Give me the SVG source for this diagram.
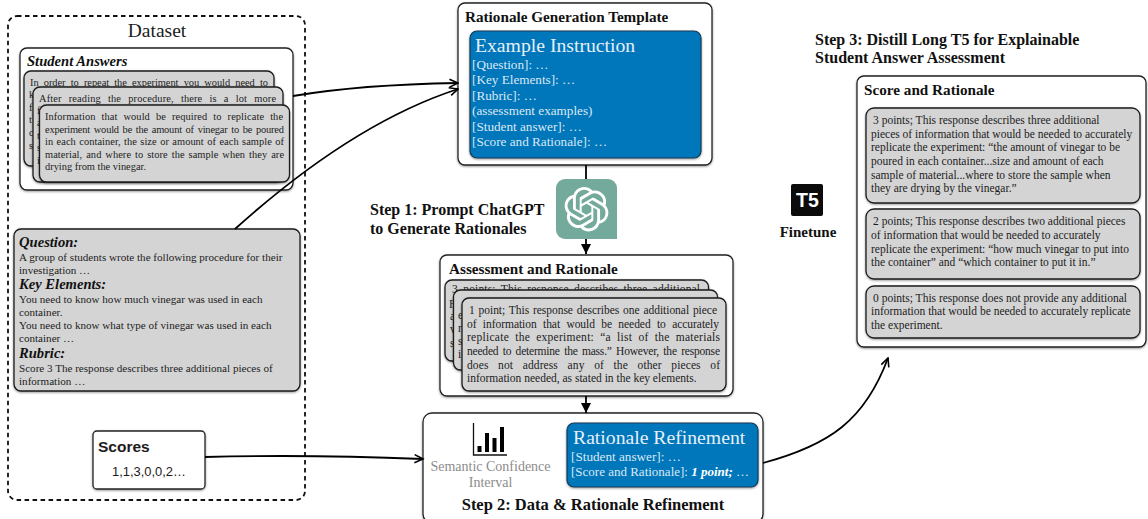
<svg xmlns="http://www.w3.org/2000/svg" width="1148" height="519" viewBox="0 0 1148 519">
<style>
text{font-family:"Liberation Serif","Times New Roman",serif;fill:#1c1c1c}
.box{fill:#fff;stroke:#222;stroke-width:1.3;filter:url(#sh)}
.card{fill:#d4d4d4;stroke:#1a1a1a;stroke-width:1.3;filter:url(#sh)}
.blue{fill:#0076bb;stroke:#143a55;stroke-width:1.2;filter:url(#sh)}
.tt{font-size:10.4px}
.q{font-size:11.1px}
.r{font-size:11.5px}
.h{font-size:15.2px;font-weight:bold;fill:#111}
.s{font-size:16px;font-weight:bold;fill:#111}
.bi{font-size:14.6px;font-weight:bold;font-style:italic;fill:#111}
.w{fill:#dce9f4;font-size:13.2px}
.wb{fill:#e6f0f8;font-size:19.7px}
.gray{fill:#8c8c8c;font-size:14px}
.sans{font-family:"Liberation Sans",Arial,sans-serif}
.c{fill:none;stroke:#000;stroke-width:1.8}
</style>
<defs>
<filter id="sh" x="-5%" y="-5%" width="110%" height="112%"><feDropShadow dx="0" dy="1" stdDeviation="1" flood-color="#000" flood-opacity="0.4"/></filter>
<marker id="open" markerWidth="11" markerHeight="11" refX="9.5" refY="5" orient="auto" markerUnits="userSpaceOnUse"><path d="M1 1L9.5 5L1 9" fill="none" stroke="#000" stroke-width="1.6"/></marker>
<marker id="solid" markerWidth="11" markerHeight="10" refX="10" refY="5" orient="auto" markerUnits="userSpaceOnUse"><path d="M0 0L10 5L0 10z" fill="#000"/></marker>
</defs>

<g id="dataset">
<rect x="8" y="16" width="297" height="484" rx="9" fill="#fff" stroke="#111" stroke-width="1.8" stroke-dasharray="4.5 3.5"/>
<text x="157" y="37" text-anchor="middle" font-size="19.5">Dataset</text>
</g>

<g id="student-answers">
<rect class="box" x="20" y="48" width="273" height="142" rx="7"/>
<text class="bi" x="27" y="66">Student Answers</text>
<rect class="card" x="24" y="71" width="250" height="95" rx="7"/>
<text class="tt" x="30" y="86" word-spacing="2.6" textLength="238">In order to repeat the experiment you would need to</text>
<text class="tt" x="29" y="98">k</text><text class="tt" x="29" y="111">f</text><text class="tt" x="29" y="123">t</text><text class="tt" x="29" y="136">c</text><text class="tt" x="29" y="149">s</text>
<rect class="card" x="33" y="87" width="250" height="95" rx="7"/>
<text class="tt" x="39" y="102" word-spacing="4.4" textLength="237">After reading the procedure, there is a lot more</text>
<text class="tt" x="37" y="114">f</text><text class="tt" x="37" y="126">a</text><text class="tt" x="37" y="139">t</text><text class="tt" x="37" y="151">s</text><text class="tt" x="37" y="164">i</text>
<rect class="card" x="39.5" y="105" width="250" height="77" rx="7"/>
<text class="tt" x="45" y="120" word-spacing="3.4" textLength="238">Information that would be required to replicate the</text>
<text class="tt" x="45" y="133" word-spacing="1.3" textLength="239">experiment would be the amount of vinegar to be poured</text>
<text class="tt" x="45" y="145" word-spacing="0.8" textLength="239">in each container, the size or amount of each sample of</text>
<text class="tt" x="45" y="158" word-spacing="1.3" textLength="239">material, and where to store the sample when they are</text>
<text class="tt" x="45" y="170">drying from the vinegar.</text>
</g>

<g id="question-card">
<rect class="card" x="14" y="229" width="286" height="162" rx="7"/>
<text class="bi" x="19" y="247">Question:</text>
<text class="q" x="19" y="261">A group of students wrote the following procedure for their</text>
<text class="q" x="19" y="274">investigation …</text>
<text class="bi" x="19" y="289">Key Elements:</text>
<text class="q" x="19" y="303">You need to know how much vinegar was used in each</text>
<text class="q" x="19" y="316">container.</text>
<text class="q" x="19" y="329">You need to know what type of vinegar was used in each</text>
<text class="q" x="19" y="342">container …</text>
<text class="bi" x="19" y="358">Rubric:</text>
<text class="q" x="19" y="372">Score 3 The response describes three additional pieces of</text>
<text class="q" x="19" y="385">information …</text>
</g>

<g id="scores">
<rect class="box" x="93" y="431" width="112" height="58" rx="4"/>
<text class="sans" x="98" y="452" font-size="15.5" font-weight="bold">Scores</text>
<text class="sans" x="112" y="476" font-size="12.9">1,1,3,0,0,2…</text>
</g>

<g id="template">
<rect class="box" x="458" y="3" width="254" height="162" rx="7"/>
<text class="h" x="465" y="22">Rationale Generation Template</text>
<rect class="blue" x="470" y="31" width="231" height="127" rx="7"/>
<text class="wb" x="475" y="52">Example Instruction</text>
<text class="w" x="472" y="69">[Question]: …</text>
<text class="w" x="472" y="84">[Key Elements]: …</text>
<text class="w" x="472" y="100">[Rubric]: …</text>
<text class="w" x="472" y="115">(assessment examples)</text>
<text class="w" x="472" y="131">[Student answer]: …</text>
<text class="w" x="472" y="146">[Score and Rationale]: …</text>
</g>

<g id="chatgpt">
<rect x="556" y="179" width="61" height="60" rx="9" fill="#74aa9c"/>
<path d="M607 239h10v-10z" fill="#74aa9c"/>
<path transform="translate(564.3 187) scale(1.85)" fill="#fff" d="M22.2819 9.8211a5.9847 5.9847 0 0 0-.5157-4.9108 6.0462 6.0462 0 0 0-6.5098-2.9A6.0651 6.0651 0 0 0 4.9807 4.1818a5.9847 5.9847 0 0 0-3.9977 2.9 6.0462 6.0462 0 0 0 .7427 7.0966 5.98 5.98 0 0 0 .511 4.9107 6.051 6.051 0 0 0 6.5146 2.9001A5.9847 5.9847 0 0 0 13.2599 24a6.0557 6.0557 0 0 0 5.7718-4.2058 5.9894 5.9894 0 0 0 3.9977-2.9001 6.0557 6.0557 0 0 0-.7475-7.0729zm-9.022 12.6081a4.4755 4.4755 0 0 1-2.8764-1.0408l.1419-.0804 4.7783-2.7582a.7948.7948 0 0 0 .3927-.6813v-6.7369l2.02 1.1686a.071.071 0 0 1 .038.052v5.5826a4.504 4.504 0 0 1-4.4945 4.4944zm-9.6607-4.1254a4.4708 4.4708 0 0 1-.5346-3.0137l.142.0852 4.783 2.7582a.7712.7712 0 0 0 .7806 0l5.8428-3.3685v2.3324a.0804.0804 0 0 1-.0332.0615L9.74 19.9502a4.4992 4.4992 0 0 1-6.1408-1.6464zM2.3408 7.8956a4.485 4.485 0 0 1 2.3655-1.9728V11.6a.7664.7664 0 0 0 .3879.6765l5.8144 3.3543-2.0201 1.1685a.0757.0757 0 0 1-.071 0l-4.8303-2.7865A4.504 4.504 0 0 1 2.3408 7.872zm16.5963 3.8558L13.1038 8.364 15.1192 7.2a.0757.0757 0 0 1 .071 0l4.8303 2.7913a4.4944 4.4944 0 0 1-.6765 8.1042v-5.6772a.79.79 0 0 0-.407-.667zm2.0107-3.0231l-.142-.0852-4.7735-2.7818a.7759.7759 0 0 0-.7854 0L9.409 9.2297V6.8974a.0662.0662 0 0 1 .0284-.0615l4.8303-2.7866a4.4992 4.4992 0 0 1 6.6802 4.66zM8.3065 12.863l-2.02-1.1638a.0804.0804 0 0 1-.038-.0567V6.0742a4.4992 4.4992 0 0 1 7.3757-3.4537l-.142.0805L8.704 5.459a.7948.7948 0 0 0-.3927.6813zm1.0976-2.3654l2.602-1.4998 2.6069 1.4998v2.9994l-2.5974 1.4997-2.6067-1.4997Z"/>
</g>
<text id="step1" class="s" x="370" y="215">Step 1: Prompt ChatGPT<tspan x="370" y="234">to Generate Rationales</tspan></text>

<g id="assessment">
<rect class="box" x="440" y="255" width="293" height="141" rx="7"/>
<text class="h" x="449" y="274">Assessment and Rationale</text>
<rect class="card" x="445" y="280" width="263.5" height="81" rx="7"/>
<text class="r" x="452" y="293" word-spacing="2.3" textLength="248">3 points; This response describes three additional</text>
<text class="r" x="449" y="308">F</text><text class="r" x="450" y="320">a</text><text class="r" x="450" y="333">v</text><text class="r" x="450" y="347">s</text>
<rect class="card" x="453.5" y="290" width="264" height="80" rx="7"/>
<text class="r" x="458" y="319">e</text><text class="r" x="458" y="332">r</text><text class="r" x="458" y="345">s</text><text class="r" x="458" y="358">i</text>
<rect class="card" x="462" y="298" width="264" height="93" rx="7"/>
<text class="r" x="469" y="314" word-spacing="1" textLength="248">1 point; This response describes one additional piece</text>
<text class="r" x="467" y="328" word-spacing="3.5" textLength="252">of information that would be needed to accurately</text>
<text class="r" x="467" y="341" word-spacing="3" textLength="253">replicate the experiment: “a list of the materials</text>
<text class="r" x="467" y="355" word-spacing="1.7" textLength="253">needed to determine the mass.” However, the response</text>
<text class="r" x="467" y="369" word-spacing="6.7" textLength="253">does not address any of the other pieces of</text>
<text class="r" x="467" y="382">information needed, as stated in the key elements.</text>
</g>

<g id="refinement">
<rect class="box" x="423" y="413" width="340" height="110" rx="9"/>
<path d="M473.5 423V455H507" fill="none" stroke="#111" stroke-width="1.3"/>
<path d="M477.5 446h4v6h-4zM485 433h4v19h-4zM492.5 438h4v14h-4zM500 427h4v25h-4z" fill="#000"/>
<text class="gray" x="490.5" y="471" text-anchor="middle">Semantic Confidence</text>
<text class="gray" x="490.5" y="487" text-anchor="middle">Interval</text>
<rect class="blue" x="567" y="423" width="191" height="64" rx="7"/>
<text class="wb" x="573" y="444">Rationale Refinement</text>
<text class="w" x="571" y="461" font-size="13">[Student answer]: …</text>
<text class="w" x="571" y="476" style="font-size:13px">[Score and Rationale]: <tspan font-weight="bold" font-style="italic" fill="#fff">1 point;</tspan> …</text>
<text class="s" x="593" y="510" text-anchor="middle" style="font-size:16.5px">Step 2: Data &amp; Rationale Refinement</text>
</g>

<text id="step3" class="s" x="815" y="45">Step 3: Distill Long T5 for Explainable<tspan x="815" y="63">Student Answer Assessment</tspan></text>

<g id="t5">
<rect x="791" y="184" width="32" height="32" rx="2" fill="#0b0b0b"/>
<text class="sans" x="807.5" y="207" text-anchor="middle" font-size="19.5" font-weight="bold" style="fill:#fff">T5</text>
<text x="808" y="237" text-anchor="middle" font-size="15" font-weight="bold" style="fill:#111">Finetune</text>
</g>

<g id="score-rationale">
<rect class="box" x="857" y="76" width="289" height="271" rx="7"/>
<text class="h" x="864" y="95">Score and Rationale</text>
<rect class="card" x="866" y="108" width="274" height="95" rx="8"/>
<text class="r" x="873" y="124">3 points; This response describes three additional</text>
<text class="r" x="871" y="138">pieces of information that would be needed to accurately</text>
<text class="r" x="871" y="151">replicate the experiment: “the amount of vinegar to be</text>
<text class="r" x="871" y="165">poured in each container...size and amount of each</text>
<text class="r" x="871" y="179">sample of material...where to store the sample when</text>
<text class="r" x="871" y="192">they are drying by the vinegar.”</text>
<rect class="card" x="866" y="209" width="274" height="70" rx="8"/>
<text class="r" x="873" y="225">2 points; This response describes two additional pieces</text>
<text class="r" x="871" y="239">of information that would be needed to accurately</text>
<text class="r" x="871" y="253">replicate the experiment: “how much vinegar to put into</text>
<text class="r" x="871" y="266">the container” and “which container to put it in.”</text>
<rect class="card" x="866" y="286" width="274" height="52" rx="8"/>
<text class="r" x="873" y="302">0 points; This response does not provide any additional</text>
<text class="r" x="871" y="315">information that would be needed to accurately replicate</text>
<text class="r" x="871" y="329">the experiment.</text>
</g>

<g id="connectors">
<path class="c" d="M293 96C340 88 400 84 458 83" marker-end="url(#open)"/>
<path class="c" d="M235 229C295 175 375 116 458 89" marker-end="url(#open)"/>
<path class="c" d="M586 165V179"/>
<path class="c" d="M586 239V254" marker-end="url(#solid)"/>
<path class="c" d="M586 396V413" marker-end="url(#solid)"/>
<path class="c" d="M205 457C280 455 350 456 423 459" marker-end="url(#open)"/>
<path class="c" d="M763 463C830 445 865 420 888 358" marker-end="url(#open)"/>
</g>
</svg>
